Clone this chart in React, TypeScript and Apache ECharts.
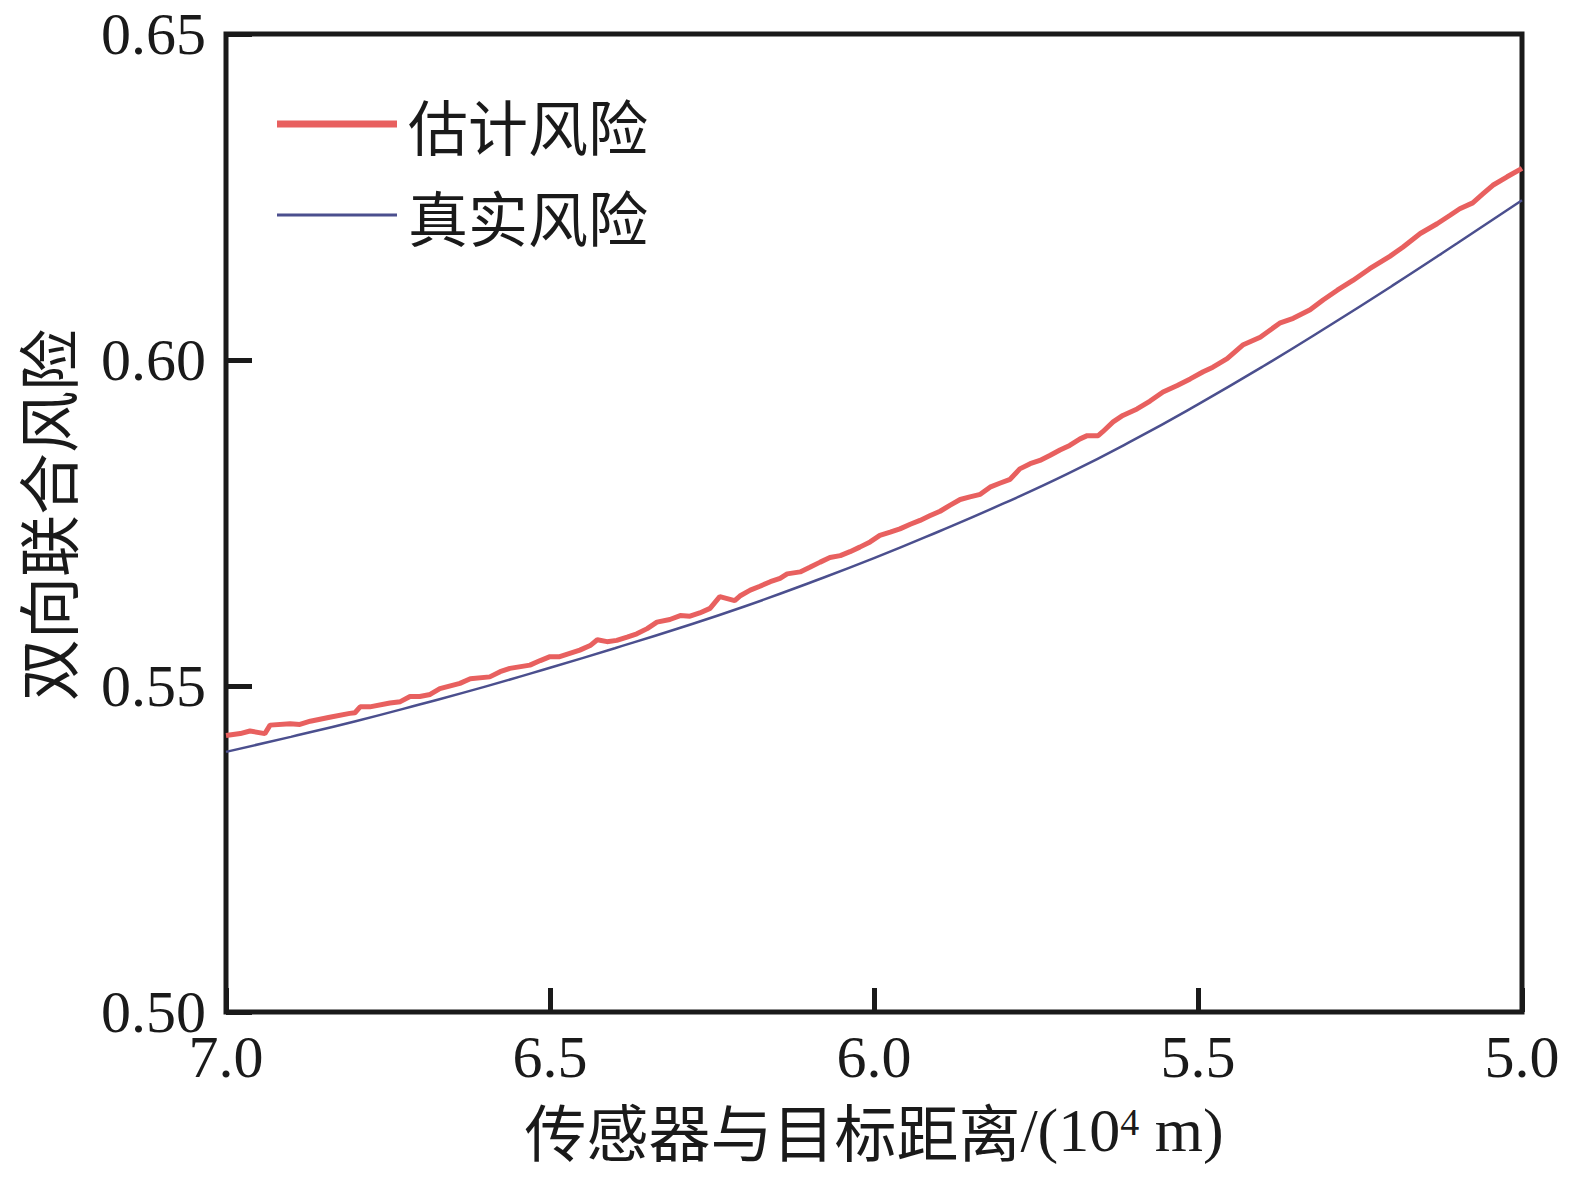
import React, { useEffect, useRef } from "react";
import * as echarts from "echarts";

// ---- Data ----
const xTicks = [7.0, 6.5, 6.0, 5.5, 5.0];
const yTicks = [0.5, 0.55, 0.6, 0.65];

const seriesNames = ["估计风险", "真实风险"];

// Estimated risk (noisy red curve)
const estDistance = [
  7.0, 6.978, 6.963, 6.94, 6.932, 6.901, 6.886, 6.87, 6.84, 6.809, 6.801, 6.793, 6.778, 6.747, 6.731, 6.716,
  6.701, 6.685, 6.67, 6.639, 6.623, 6.593, 6.577, 6.562, 6.531, 6.515, 6.5, 6.485, 6.454, 6.438, 6.427, 6.412,
  6.397, 6.381, 6.366, 6.35, 6.335, 6.315, 6.299, 6.284, 6.269, 6.253, 6.238, 6.215, 6.207, 6.191, 6.176, 6.16,
  6.145, 6.134, 6.114, 6.099, 6.083, 6.068, 6.052, 6.037, 6.022, 6.006, 5.991, 5.975, 5.96, 5.944, 5.929, 5.914,
  5.898, 5.883, 5.867, 5.852, 5.836, 5.821, 5.806, 5.79, 5.775, 5.759, 5.744, 5.728, 5.713, 5.698, 5.682, 5.671,
  5.654, 5.647, 5.631, 5.616, 5.594, 5.574, 5.554, 5.532, 5.512, 5.492, 5.477, 5.455, 5.431, 5.404, 5.373, 5.353,
  5.327, 5.307, 5.285, 5.261, 5.235, 5.204, 5.184, 5.157, 5.131, 5.111, 5.096, 5.076, 5.06, 5.045, 5.023, 5.0,
];
const estRisk = [
  0.5424, 0.5427, 0.5431, 0.5427, 0.544, 0.5442, 0.5441, 0.5446, 0.5452, 0.5458, 0.5459, 0.5468, 0.5468, 0.5474,
  0.5476, 0.5484, 0.5484, 0.5487, 0.5496, 0.5504, 0.5511, 0.5514, 0.5522, 0.5527, 0.5532, 0.5539, 0.5545, 0.5545,
  0.5555, 0.5562, 0.5571, 0.5568, 0.557, 0.5575, 0.558, 0.5588, 0.5598, 0.5602, 0.5608, 0.5607, 0.5612, 0.5619,
  0.5637, 0.5631, 0.5638, 0.5647, 0.5653, 0.566, 0.5665, 0.5672, 0.5675, 0.5682, 0.569, 0.5697, 0.57, 0.5706,
  0.5713, 0.5721, 0.5731, 0.5736, 0.5741, 0.5748, 0.5754, 0.5761, 0.5768, 0.5777, 0.5786, 0.579, 0.5794, 0.5805,
  0.5811, 0.5817, 0.5833, 0.5841, 0.5846, 0.5854, 0.5862, 0.5869, 0.5879, 0.5884, 0.5884, 0.589, 0.5905, 0.5915,
  0.5925, 0.5937, 0.5951, 0.5961, 0.5971, 0.5982, 0.5989, 0.6002, 0.6023, 0.6035, 0.6057, 0.6064, 0.6077, 0.6092,
  0.6107, 0.6122, 0.614, 0.6159, 0.6173, 0.6194, 0.6209, 0.6222, 0.6232, 0.6241, 0.6255, 0.6268, 0.6281, 0.6294,
];

// True risk (smooth blue curve)
const trueDistance = [
  7.0, 6.9, 6.8, 6.7, 6.6, 6.5, 6.4, 6.3, 6.2, 6.1, 6.0, 5.9, 5.8, 5.7, 5.6, 5.5, 5.4, 5.3, 5.2, 5.1, 5.0,
];
const trueRisk = [
  0.5399, 0.5422, 0.5446, 0.5472, 0.5499, 0.5528, 0.5558, 0.5589, 0.5622, 0.5658, 0.5696, 0.5737, 0.578, 0.5826,
  0.5877, 0.5932, 0.599, 0.6051, 0.6114, 0.6179, 0.6245,
];

const xTitleCn = "传感器与目标距离";
const yTitle = "双向联合风险";

const SERIF = "'Liberation Serif', 'Times New Roman', 'DejaVu Serif', serif";
const CJK = "'Noto Sans CJK SC', 'Noto Sans', sans-serif";
const INK = "#1a1a1a";
const RED = "#e8605f";
const BLUE = "#4b4f8e";

export default function App() {
  const ref = useRef<HTMLDivElement>(null);

  useEffect(() => {
    if (!ref.current) return;
    const chart = echarts.init(ref.current, undefined, { renderer: "svg" });

    const estData = estDistance.map((d, i) => [d, estRisk[i]]);
    const trueData = trueDistance.map((d, i) => [d, trueRisk[i]]);

    chart.setOption({
      animation: false,
      backgroundColor: "#ffffff",
      grid: {
        left: 226,
        top: 34,
        width: 1296,
        height: 978,
        show: true,
        borderColor: INK,
        borderWidth: 5,
        backgroundColor: "transparent",
      },
      legend: {
        show: true,
        orient: "vertical",
        left: 272,
        top: 89,
        itemWidth: 120,
        itemHeight: 20,
        itemGap: 31,
        icon: "rect",
        data: [
          { name: seriesNames[0], icon: "path://M0,0 L120,0 L120,7 L0,7 Z", itemStyle: { color: RED } },
          { name: seriesNames[1], icon: "path://M0,0 L120,0 L120,3 L0,3 Z", itemStyle: { color: BLUE } },
        ],
        textStyle: {
          fontFamily: CJK,
          fontSize: 60,
          color: INK,
          lineHeight: 60,
          padding: [0, 0, 0, 6],
        },
      },
      xAxis: {
        type: "value",
        inverse: true,
        min: xTicks[xTicks.length - 1],
        max: xTicks[0],
        interval: 0.5,
        axisLine: { show: false },
        axisTick: {
          show: true,
          inside: true,
          length: 24,
          lineStyle: { color: INK, width: 5 },
        },
        splitLine: { show: false },
        axisLabel: {
          show: true,
          margin: 18,
          fontFamily: SERIF,
          fontSize: 60,
          lineHeight: 54,
          color: INK,
          formatter: (v: number) => v.toFixed(1),
        },
      },
      yAxis: {
        type: "value",
        min: yTicks[0],
        max: yTicks[yTicks.length - 1],
        interval: 0.05,
        axisLine: { show: false },
        axisTick: {
          show: true,
          inside: true,
          length: 26,
          lineStyle: { color: INK, width: 5 },
        },
        splitLine: { show: false },
        axisLabel: {
          show: true,
          margin: 20,
          fontFamily: SERIF,
          fontSize: 60,
          lineHeight: 54,
          color: INK,
          formatter: (v: number) => v.toFixed(2),
        },
      },
      graphic: [
        {
          type: "text",
          x: 874,
          y: 1130,
          style: {
            text: `{cn|${xTitleCn}}{en|/(10}{sup|4}{en| m)}`,
            align: "center",
            verticalAlign: "middle",
            fill: INK,
            rich: {
              cn: { fontFamily: CJK, fontSize: 62, lineHeight: 58, fill: INK, verticalAlign: "middle" },
              en: { fontFamily: SERIF, fontSize: 62, lineHeight: 58, fill: INK, verticalAlign: "middle" },
              sup: { fontFamily: SERIF, fontSize: 38, lineHeight: 38, fill: INK, verticalAlign: "top", padding: [2, 0, 0, 0] },
            },
          },
        },
        {
          type: "text",
          x: 46,
          y: 515,
          rotation: Math.PI / 2,
          style: {
            text: yTitle,
            fontFamily: CJK,
            fontSize: 62,
            fill: INK,
            align: "center",
            verticalAlign: "middle",
          },
        },
      ],
      series: [
        {
          name: seriesNames[0],
          type: "line",
          data: estData,
          symbol: "none",
          smooth: false,
          lineStyle: { color: RED, width: 5 },
          itemStyle: { color: RED },
          z: 3,
        },
        {
          name: seriesNames[1],
          type: "line",
          data: trueData,
          symbol: "none",
          smooth: true,
          lineStyle: { color: BLUE, width: 2.5 },
          itemStyle: { color: BLUE },
          z: 2,
        },
      ],
    });

    return () => {
      chart.dispose();
    };
  }, []);

  return (
    <div
      ref={ref}
      style={{ position: "fixed", left: 0, top: 0, width: 1579, height: 1177, background: "#fff" }}
    />
  );
}
